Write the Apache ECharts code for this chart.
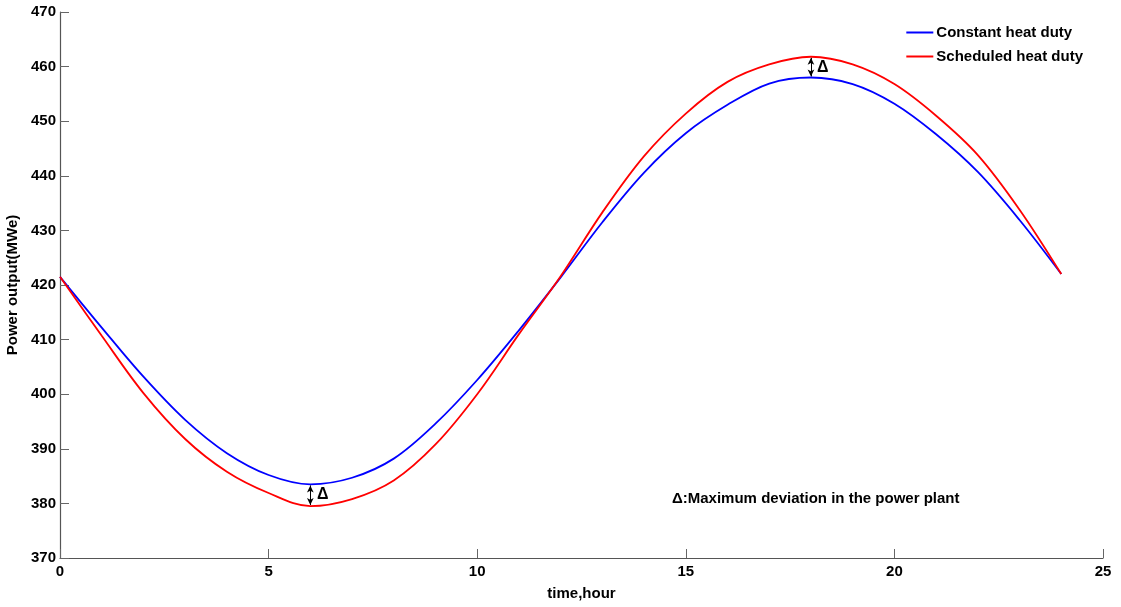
<!DOCTYPE html>
<html>
<head>
<meta charset="utf-8">
<script src="https://cdn.jsdelivr.net/npm/echarts@6/dist/echarts.min.js"></script>
<style>html,body{margin:0;padding:0;background:#fff;}#c{width:1121px;height:607px;}</style>
</head>
<body>
<div id="c"></div>
<script>
const hours = [0,1,2,3,4,5,6,7,8,9,10,11,12,13,14,15,16,17,18,19,20,21,22,23,24];
const constantHeat = [421.5,412.2,403.2,395.3,389.2,385.2,383.5,384.7,388.2,394.6,402.6,411.7,421.4,431.5,440.6,447.8,453.0,456.9,458.0,456.8,453.2,447.6,440.7,431.9,422.0];
const scheduledHeat = [421.5,410.7,400.2,391.8,385.8,381.9,379.5,380.8,384.2,390.8,400.0,411.0,421.6,433.3,443.6,451.4,457.2,460.4,461.8,460.4,456.8,451.0,443.8,433.8,422.0];
const xTicks = {min:0, max:25, interval:5};
const yTicks = {min:370, max:470, interval:10};
const seriesNames = ['Constant heat duty','Scheduled heat duty'];
const noteText = 'Δ:Maximum deviation in the power plant';

const FONT = '"Liberation Sans",Arial,sans-serif';
const chart = echarts.init(document.getElementById('c'));
const pair = (xs, ys) => xs.map((x,i)=>[x, ys[i]]);

chart.setOption({
  animation:false,
  grid:{left:60, right:18, top:12, bottom:49, outerBoundsMode:'none', containLabel:false},
  legend:{
    orient:'vertical', right:38, top:25, itemGap:9, padding:0,
    itemWidth:27, itemHeight:2, icon:'rect',
    textStyle:{fontFamily:FONT, fontWeight:'bold', fontSize:15, color:'#000', padding:[0,0,0,-2]},
    data:seriesNames
  },
  xAxis:{
    type:'value', min:xTicks.min, max:xTicks.max, interval:xTicks.interval,
    name:'time,hour', nameLocation:'middle', nameGap:28,
    nameTextStyle:{fontFamily:FONT, fontWeight:'bold', fontSize:15, color:'#000'},
    axisLine:{show:true, lineStyle:{color:'#555', width:1.2}},
    axisTick:{show:true, inside:true, length:9, lineStyle:{color:'#666'}},
    axisLabel:{fontFamily:FONT, fontWeight:'bold', fontSize:15, color:'#000', margin:6},
    splitLine:{show:false}
  },
  yAxis:{
    type:'value', min:yTicks.min, max:yTicks.max, interval:yTicks.interval,
    name:'Power output(MWe)', nameLocation:'middle', nameGap:34,
    nameTextStyle:{fontFamily:FONT, fontWeight:'bold', fontSize:15, color:'#000'},
    axisLine:{show:true, lineStyle:{color:'#555', width:1.2}},
    axisTick:{show:true, inside:true, length:9, lineStyle:{color:'#666'}},
    axisLabel:{fontFamily:FONT, fontWeight:'bold', fontSize:15, color:'#000', margin:4},
    splitLine:{show:false}
  },
  series:[
    {
      name:seriesNames[0], type:'line', data:pair(hours, constantHeat),
      smooth:0.35, showSymbol:false, symbol:'none',
      lineStyle:{color:'#0000ff', width:1.8}, itemStyle:{color:'#0000ff'},
      markLine:{
        silent:true, symbol:['arrow','arrow'], symbolSize:[5,7],
        lineStyle:{color:'#000', width:1, type:'solid'}, label:{show:false},
        data:[
          [{coord:[6,383.3]},{coord:[6,379.7]}],
          [{coord:[18,461.6]},{coord:[18,458.2]}]
        ]
      },
      markPoint:{
        silent:true, symbol:'circle', symbolSize:0,
        label:{show:true, formatter:'Δ', color:'#000', fontFamily:FONT, fontWeight:'bold', fontSize:16},
        data:[{coord:[6.3,381.6]},{coord:[18.28,459.8]}]
      }
    },
    {
      name:seriesNames[1], type:'line', data:pair(hours, scheduledHeat),
      smooth:0.35, showSymbol:false, symbol:'none',
      lineStyle:{color:'#ff0000', width:1.8}, itemStyle:{color:'#ff0000'}
    }
  ],
  graphic:[{
    type:'text', left:672, top:491,
    style:{text:noteText, fill:'#000', font:'bold 15px '+FONT}
  }]
});
</script>
</body>
</html>
